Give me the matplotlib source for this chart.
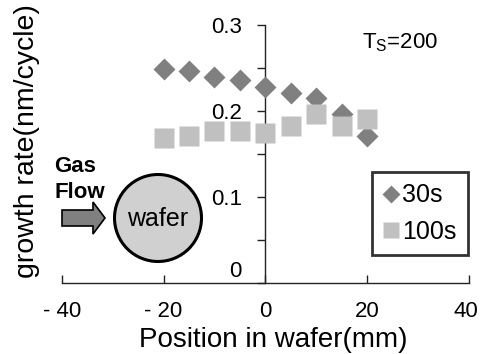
import numpy as np
import matplotlib
matplotlib.use('Agg')
import matplotlib.pyplot as plt
from matplotlib.patches import Circle, FancyArrow
from matplotlib.transforms import ScaledTranslation

plt.rcParams['font.family'] = ['Liberation Sans', 'DejaVu Sans']

# data
positions = [-20, -15, -10, -5, 0, 5, 10, 15, 20]
rate_30s = [0.249, 0.247, 0.240, 0.236, 0.228, 0.221, 0.215, 0.197, 0.171]
rate_100s = [0.169, 0.171, 0.177, 0.177, 0.175, 0.182, 0.197, 0.182, 0.191]
x_ticks = [-40, -20, 0, 20, 40]
x_labels = ['- 40', '- 20', '0', '20', '40']
y_ticks = [0, 0.1, 0.2, 0.3]
y_labels = ['0', '0.1', '0.2', '0.3']

fig = plt.figure(figsize=(4.81, 3.54), dpi=100)
ax = fig.add_axes([61.7 / 481, 1 - 283 / 354, (469 - 61.7) / 481, (283 - 25) / 354])
ax.set_xlim(-40, 40)
ax.set_ylim(0, 0.3)

ax.plot(positions, rate_30s, 'D', color='#808080', ms=11.5, mec='none', label='30s', zorder=3)
ax.plot(positions, rate_100s, 's', color='#c0c0c0', ms=14, mec='none', label='100s', zorder=4)

# axes cross at the origin
for s in ['top', 'right']:
    ax.spines[s].set_visible(False)
ax.spines['left'].set_position(('data', 0))
ax.spines['bottom'].set_position(('data', 0))
for s in ['left', 'bottom']:
    ax.spines[s].set_linewidth(1.0)
    ax.spines[s].set_color('#222222')

ax.set_xticks(x_ticks)
ax.set_xticklabels(x_labels)
ax.set_yticks(y_ticks)
ax.set_yticklabels(y_labels)
ax.set_yticks([0.05, 0.15, 0.25], minor=True)
ax.tick_params(axis='x', direction='in', length=6, width=1, pad=13, labelsize=16, color='#222222')
ax.tick_params(axis='y', which='both', direction='out', length=6, width=1, pad=11, labelsize=16, color='#222222')
lab0 = ax.yaxis.get_majorticklabels()[0]
lab0.set_transform(lab0.get_transform() + ScaledTranslation(0, 10 / 72, fig.dpi_scale_trans))
lab40 = ax.xaxis.get_majorticklabels()[-1]
lab40.set_transform(lab40.get_transform() + ScaledTranslation(-2 / 72, 0, fig.dpi_scale_trans))

fig.text(273 / 481, 1 - 340 / 354, 'Position in wafer(mm)', ha='center', va='center', fontsize=20)
fig.text(27 / 481, 1 - 141 / 354, 'growth rate(nm/cycle)', ha='center', va='center',
         rotation=90, fontsize=20.5)

# annotation
fig.text(362 / 481, 1 - 43 / 354, r'T$_\mathregular{S}$=200', ha='left', va='center', fontsize=16)

leg = ax.legend(loc='upper left', bbox_to_anchor=(372 / 481, 1 - 172 / 354),
                bbox_transform=fig.transFigure, fontsize=18, frameon=True, fancybox=False,
                markerscale=0.82, handlelength=0.6, handletextpad=0.15, labelspacing=0.5,
                borderpad=0.45, borderaxespad=0)
leg.get_frame().set_edgecolor('black')
leg.get_frame().set_linewidth(2)

# gas flow / wafer sketch
fig.text(54 / 481, 1 - 167 / 354, 'Gas', ha='left', va='center', fontsize=16, fontweight='bold')
fig.text(54 / 481, 1 - 193 / 354, 'Flow', ha='left', va='center', fontsize=16, fontweight='bold')
arrow = FancyArrow(62 / 100, (354 - 218) / 100, 0.31, 0, width=0.16, head_width=0.32,
                   head_length=0.12, length_includes_head=False, transform=fig.dpi_scale_trans,
                   facecolor='#808080', edgecolor='black', lw=1.2)
fig.add_artist(arrow)
wafer = Circle((158 / 100, (354 - 218) / 100), 0.435, transform=fig.dpi_scale_trans,
               facecolor='#d0d0d0', edgecolor='black', lw=2.2)
fig.add_artist(wafer)
fig.text(158 / 481, 1 - 219 / 354, 'wafer', ha='center', va='center', fontsize=18)

fig.savefig('out.png', dpi=100)
